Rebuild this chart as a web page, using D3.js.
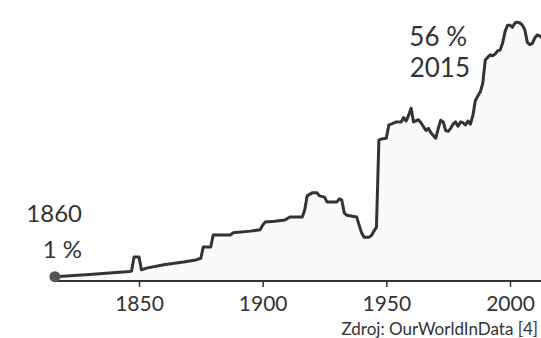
<!DOCTYPE html>
<html><head><meta charset="utf-8">
<script src="https://cdn.jsdelivr.net/npm/d3@7"></script>
<style>
html,body{margin:0;padding:0;background:#fefefe;}
svg{display:block;font-family:Lato,"Open Sans",sans-serif;}
</style></head>
<body><svg id="c" width="541" height="338"></svg>
<script>
const years = [1816,1830,1846,1847,1848,1850,1851,1853,1860,1868,1873,1875,1876,1879,1880,1887,1888,1895,1899,1900,1901,1905,1909,1911,1916,1917,1918,1920,1922,1923,1925,1926,1930,1931,1932,1933,1934,1938,1939,1940,1941,1943,1944,1945,1946,1947,1948,1950,1951,1952,1954,1956,1957,1958,1959,1960,1961,1963,1964,1966,1967,1968,1970,1971,1972,1973,1974,1975,1976,1977,1978,1979,1980,1981,1982,1983,1984,1985,1986,1987,1988,1989,1990,1991,1992,1993,1994,1995,1996,1997,1998,1999,2000,2001,2002,2003,2004,2005,2006,2007,2008,2009,2010,2011,2012,2013,2014,2015];
const shares = [1.0,1.5,2.2,2.3,5.6,5.6,2.6,3.0,3.8,4.4,4.9,5.3,7.9,7.9,10.7,10.7,11.2,11.6,11.9,13.0,13.7,13.9,14.2,14.9,14.9,16.5,19.8,20.5,20.5,19.8,19.5,18.4,18.4,19.1,18.8,15.8,15.3,14.9,13.0,11.2,10.2,10.2,10.6,11.6,12.5,32.8,33.0,33.2,36.3,36.5,37.0,37.0,38.0,37.2,38.5,40.2,37.0,37.5,36.8,35.0,35.5,34.5,33.2,35.5,37.4,37.0,35.0,34.8,35.5,36.5,37.0,36.0,37.0,36.8,36.3,37.2,36.5,38.5,42.0,43.0,44.0,46.0,51.4,52.0,52.6,52.4,52.8,53.5,53.7,55.3,58.0,59.5,59.5,59.0,60.0,60.2,60.0,59.5,58.4,55.5,55.0,55.2,56.5,57.2,57.0,56.5,56.3,56.0];
const tickYears = [1850,1900,1950,2000];
const startLabel = ["1860","1 %"];
const endLabel = ["56 %","2015"];
const sourceText = "Zdroj: OurWorldInData [4]";

const data = years.map((y,i)=>({year:y, v:shares[i]}));
const svg = d3.select("#c");
const x = d3.scaleLinear().domain([1850,2000]).range([139,510]);
const y = d3.scaleLinear().domain([0,60]).range([281,23]);
const ink = "#333";

svg.append("path").datum(data)
  .attr("d", d3.area().x(d=>x(d.year)).y0(y(0)).y1(d=>y(d.v)))
  .attr("fill","#f9fafb");

const ax = svg.append("g").attr("transform",`translate(0,${y(0)})`)
  .call(d3.axisBottom(x).tickValues(tickYears).tickFormat(d3.format("d")).tickSize(6).tickPadding(9));
ax.select(".domain").remove();
ax.append("line").attr("x1",x(years[0])).attr("x2",541).attr("stroke",ink).attr("stroke-width",2);
ax.selectAll(".tick line").attr("stroke",ink).attr("stroke-width",1.5);
ax.selectAll(".tick text").attr("fill",ink).attr("font-size",21).attr("font-family","Lato");

svg.append("path").datum(data)
  .attr("d", d3.line().x(d=>x(d.year)).y(d=>y(d.v)))
  .attr("fill","none").attr("stroke",ink).attr("stroke-width",3).attr("stroke-linejoin","round");

svg.append("circle").attr("cx",x(years[0])).attr("cy",y(shares[0])).attr("r",5.5).attr("fill","#555");

svg.append("text").attr("x",82).attr("y",222).attr("text-anchor","end").attr("font-size",24).attr("fill",ink).text(startLabel[0]);
svg.append("text").attr("x",82).attr("y",258).attr("text-anchor","end").attr("font-size",24).attr("fill",ink).text(startLabel[1]);
svg.append("text").attr("x",467).attr("y",46).attr("text-anchor","end").attr("font-size",26).attr("fill",ink).text(endLabel[0]);
svg.append("text").attr("x",470).attr("y",77).attr("text-anchor","end").attr("font-size",26).attr("fill",ink).text(endLabel[1]);
svg.append("text").attr("x",538).attr("y",335).attr("text-anchor","end").attr("font-size",17).attr("fill",ink).text(sourceText);
</script></body></html>
